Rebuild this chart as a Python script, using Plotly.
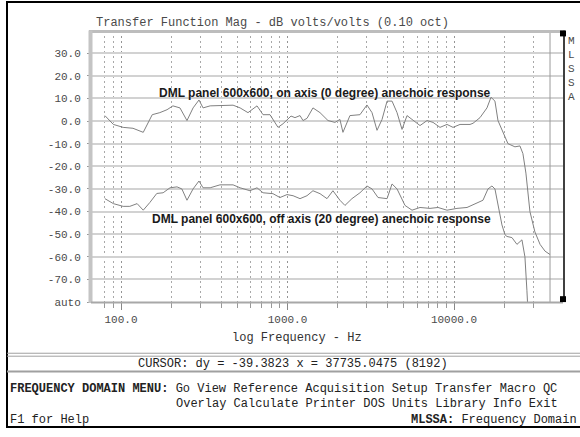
import math
import plotly.graph_objects as go

# ---- measured response data (1/10 octave smoothed) ----
on_axis_freq = [80, 90, 103, 118, 136, 154, 171, 189, 205, 226, 249, 271, 294, 311, 343,
                404, 471, 519, 579, 656, 713, 785, 877, 940, 993, 1050, 1109, 1189, 1239,
                1310, 1422, 1568, 1751, 1927, 2065, 2153, 2372, 2724, 3001, 3218, 3449,
                3697, 3962, 4245, 4549, 4874, 5222, 5596, 6252, 6887, 7482, 8241, 9077,
                9863, 10870, 12480, 13010, 14330, 15780, 16680, 17620, 18370, 19680,
                21090, 23230, 24890, 25940, 27040, 28580, 30620, 32880, 35230, 37760]
on_axis_db = [2.4, -1.5, -2.8, -3.2, -5.0, 2.8, 3.7, 5.0, 6.7, 5.8, 0.2, 5.8, 9.3, 5.8, 6.7,
              7.0, 7.0, 5.8, 3.7, 6.7, 2.8, 2.8, -2.8, -1.2, 0.5, 2.2, 1.5, 2.4, 0.2,
              1.2, 5.8, 3.7, 0.2, -0.6, 0.7, -5.0, 2.4, 2.8, 7.1, 3.7, -4.1,
              0.7, 8.8, 8.8, 3.7, -3.7, 2.4, 0.7, -2.0, 0.2, -0.6, -2.8, -1.5,
              -2.8, -1.5, -1.5, -1.0, 1.5, 5.8, 10.5, 8.8, 0.2, -5.0,
              -10.0, -11.4, -11.0, -14.4, -23.0, -40.0, -49.0, -54.5, -57.5, -59.0]

off_axis_freq = [80, 90, 103, 113, 125, 136, 149, 164, 179, 197, 217, 232, 249, 271, 294,
                 311, 343, 393, 471, 519, 595, 656, 713, 818, 901, 993, 1080, 1189, 1309,
                 1422, 1568, 1727, 1875, 2065, 2213, 2438, 2724, 3001, 3218, 3497, 3962,
                 4245, 4549, 5080, 5596, 6252, 7178, 8017, 9077, 10420, 11970, 13740,
                 14930, 16000, 16900, 17620, 18370, 19410, 20230, 20800, 22290, 23880,
                 25590, 26670, 27420, 28000]
off_axis_db = [-34.3, -36.5, -37.7, -37.7, -36.5, -39.4, -36.0, -32.0, -31.7, -29.5, -29.1,
               -30.0, -35.0, -30.0, -26.5, -29.5, -29.5, -28.2, -28.2, -29.5, -30.8, -29.5,
               -31.7, -32.1, -33.8, -32.5, -33.0, -34.3, -33.0, -30.8, -32.1, -34.3, -30.8,
               -35.0, -37.3, -34.3, -31.7, -28.7, -30.0, -33.8, -34.3, -27.8, -30.0, -37.3,
               -39.4, -38.2, -38.6, -38.2, -39.4, -38.6, -38.2, -36.4, -35.0, -30.0, -28.7,
               -30.0, -37.3, -45.9, -50.2, -51.0, -51.5, -54.5, -52.5, -60.0, -75.0, -88.0]

cursor_freq = 37735.0475
cursor_text = "CURSOR: dy = -39.3823 x = 37735.0475 (8192)"

y_tick_vals = [-80, -70, -60, -50, -40, -30, -20, -10, 0, 10, 20, 30]
y_tick_text = ["auto", "-70.0", "-60.0", "-50.0", "-40.0", "-30.0", "-20.0", "-10.0",
               "0.0", "10.0", "20.0", "30.0"]
x_major_vals = [100, 1000, 10000]
x_major_text = ["100.0", "1000.0", "10000.0"]
x_minor_vals = [80, 90, 200, 300, 400, 500, 600, 700, 800, 900,
                2000, 3000, 4000, 5000, 6000, 7000, 8000, 9000, 20000, 30000]

# ---- screen geometry helpers (pixel -> paper) ----
W, H = 580, 437


def px(x):
    return x / W


def py(y):
    return 1 - y / H


MONO = "Liberation Mono, DejaVu Sans Mono, monospace"
SANS = "Liberation Sans, Arial, sans-serif"
Y_MIN, Y_MAX = -80, 40

fig = go.Figure()

fig.add_trace(go.Scatter(x=[cursor_freq, cursor_freq], y=[Y_MIN, Y_MAX], mode="lines",
                         line=dict(color="#9a9a9a", width=1), showlegend=False,
                         hoverinfo="skip"))
fig.add_trace(go.Scatter(x=on_axis_freq, y=on_axis_db, mode="lines",
                         line=dict(color="#808080", width=1), showlegend=False))
fig.add_trace(go.Scatter(x=off_axis_freq, y=off_axis_db, mode="lines",
                         line=dict(color="#808080", width=1), showlegend=False))

fig.update_layout(
    width=W, height=H,
    margin=dict(l=0, r=0, t=0, b=0),
    paper_bgcolor="white", plot_bgcolor="white",
    showlegend=False,
    xaxis=dict(
        type="log", domain=[px(92), px(563)],
        range=[1.8258, 4.6547],
        tickmode="array", tickvals=x_major_vals, ticktext=x_major_text,
        ticks="outside", ticklen=7, tickcolor="#888", tickwidth=1,
        showgrid=True, gridcolor="#949494", gridwidth=1, griddash="2px,3px",
        minor=dict(tickmode="array", tickvals=x_minor_vals, ticks="outside", ticklen=5,
                   tickcolor="#999", showgrid=True, gridcolor="#a8a8a8", gridwidth=1,
                   griddash="2px,3px"),
        showline=False, zeroline=False,
        tickfont=dict(family=MONO, size=11, color="#4a4a4a"),
    ),
    yaxis=dict(
        domain=[py(307), py(31)],
        range=[Y_MIN, Y_MAX],
        tickmode="array", tickvals=y_tick_vals, ticktext=y_tick_text,
        ticks="outside", ticklen=4, tickcolor="#999",
        showgrid=True, gridcolor="#d2d2d2", gridwidth=2,
        showline=False, zeroline=False,
        ticklabelstandoff=4,
        tickfont=dict(family=MONO, size=11, color="#4a4a4a"),
    ),
)

# ---- frame and screen furniture ----
shapes = []


def hline(x0, x1, y, color, width):
    shapes.append(dict(type="line", xref="paper", yref="paper", x0=px(x0), x1=px(x1),
                       y0=py(y), y1=py(y), line=dict(color=color, width=width)))


def vline(x, y0, y1, color, width):
    shapes.append(dict(type="line", xref="paper", yref="paper", x0=px(x), x1=px(x),
                       y0=py(y0), y1=py(y1), line=dict(color=color, width=width)))


def box(x0, y0, x1, y1, fill, line_color, width):
    shapes.append(dict(type="rect", xref="paper", yref="paper", x0=px(x0), x1=px(x1),
                       y0=py(y1), y1=py(y0), fillcolor=fill,
                       line=dict(color=line_color, width=width)))


# outer screen border
box(7, 2, 584, 434, "rgba(0,0,0,0)", "black", 2)
# plot frame
hline(89, 563, 32, "#bdbdbd", 3)
vline(90.5, 31, 308, "#c4c4c4", 4)
hline(91, 563, 307.5, "#a8a8a8", 2)
vline(564, 31, 307, "black", 1.5)
box(560, 31, 566, 37, "black", "black", 0)
box(560, 301, 566, 307, "black", "black", 0)
# status separators
hline(7, 580, 359, "#a0a0a0", 1)
hline(7, 580, 362, "#a0a0a0", 1)
hline(7, 580, 377.5, "#a0a0a0", 2)

fig.update_layout(shapes=shapes)

# ---- text ----
ann = []


def text(x, y, s, anchor="left", size=12, color="#222", family=MONO):
    ann.append(dict(xref="paper", yref="paper", x=px(x), y=py(y), text=s,
                    showarrow=False, xanchor=anchor, yanchor="middle",
                    font=dict(family=family, size=size, color=color)))


text(94, 23, "Transfer Function Mag - dB volts/volts (0.10 oct)", color="#4a4a4a")
for i, ch in enumerate("MLSSA"):
    text(571, 42 + i * 14.2, ch, anchor="center", size=11, color="#4a4a4a")
text(297, 343, "log Frequency - Hz", anchor="center", color="#333")
text(293, 370, cursor_text, anchor="center", color="#222")
text(8, 395, "<b>FREQUENCY DOMAIN MENU:</b> Go View Reference Acquisition Setup Transfer Macro QC",
     color="#222")
text(174, 411, "Overlay Calculate Printer DOS Units Library Info Exit", color="#222")
text(8, 427, "F1 for Help", color="#222")
text(579, 427, "<b>MLSSA:</b> Frequency Domain", anchor="right", color="#222")

text(157, 95, "<b>DML panel 600x600, on axis (0 degree) anechoic response</b>",
     size=12, color="#1a1a1a", family=SANS)
text(150, 223, "<b>DML panel 600x600, off axis (20 degree) anechoic response</b>",
     size=12, color="#1a1a1a", family=SANS)

fig.update_layout(annotations=ann)

fig.write_html("out.html")
